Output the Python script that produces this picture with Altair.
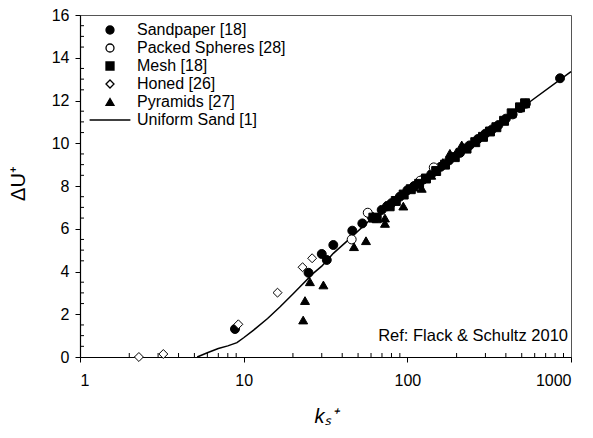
import altair as alt
import pandas as pd

# ---- data ----
series_names = ["Sandpaper [18]", "Packed Spheres [28]", "Mesh [18]",
                "Honed [26]", "Pyramids [27]", "Uniform Sand [1]"]

sand_k = [8.85, 24.9, 30.0, 32.2, 35.3, 46.1, 53.1, 60.5, 69.7, 75, 80, 90, 100, 110,
          125, 140, 160, 180, 210, 240, 270, 300, 330, 360, 400, 440, 490, 530, 857]
sand_du = [1.31, 3.94, 4.82, 4.54, 5.24, 5.91, 6.25, 6.56, 6.88, 7.05, 7.2, 7.5, 7.8, 8.0,
           8.3, 8.55, 8.9, 9.2, 9.55, 9.9, 10.2, 10.45, 10.65, 10.85, 11.15, 11.35, 11.65, 11.85, 13.04]

spheres_k = [45.7, 57.3, 120, 145]
spheres_du = [5.5, 6.75, 8.25, 8.87]

mesh_k = [62, 65, 78, 85, 95, 105, 118, 130, 150, 170, 195, 230, 260, 290, 320, 350,
          390, 434, 488, 524]
mesh_du = [6.52, 6.49, 7.05, 7.3, 7.6, 7.85, 8.1, 8.35, 8.7, 9.0, 9.35, 9.75, 10.05, 10.3,
           10.55, 10.75, 11.05, 11.4, 11.68, 11.87]

honed_k = [2.29, 3.23, 9.28, 16.1, 22.9, 26.2]
honed_du = [0.0, 0.14, 1.53, 3.01, 4.2, 4.62]

pyr_k = [23.1, 23.7, 25.4, 30.7, 47.2, 55.9, 73, 73, 94.5, 110, 122.4, 140, 165, 182, 200, 215]
pyr_du = [1.73, 2.64, 3.52, 3.37, 5.16, 5.44, 6.25, 6.5, 7.06, 7.95, 7.89, 8.5, 9.1, 9.53, 9.6, 9.92]

line_k = [5.2, 6, 7, 8, 9.1, 10, 11.5, 14, 16.7, 20, 22.1, 26.6, 30, 35.3, 44.7, 59.1,
          74.8, 100, 200, 500, 1000]
line_du = [0.0, 0.2, 0.4, 0.52, 0.67, 0.9, 1.26, 1.8, 2.35, 2.95, 3.29, 3.91, 4.25, 4.85,
           5.55, 6.41, 7.03, 7.74, 9.43, 11.66, 13.35]

x_major = [1, 10, 100, 1000]
x_minor = [2, 3, 4, 5, 6, 7, 8, 9, 20, 30, 40, 50, 60, 70, 80, 90,
           200, 300, 400, 500, 600, 700, 800, 900]
y_major = [0, 2, 4, 6, 8, 10, 12, 14, 16]
y_minor = [0.5, 1, 1.5, 2.5, 3, 3.5, 4.5, 5, 5.5, 6.5, 7, 7.5, 8.5, 9, 9.5,
           10.5, 11, 11.5, 12.5, 13, 13.5, 14.5, 15, 15.5]

shape_range = ["circle", "circle", "square", "diamond", "triangle-up", "M-5.1,0L5.1,0"]
fill_range = ["black", "white", "black", "white", "black", "transparent"]
stroke_range = ["black"] * 6

# ---- tables ----
rows = []
for name, ks, dus in [(series_names[0], sand_k, sand_du),
                      (series_names[1], spheres_k, spheres_du),
                      (series_names[2], mesh_k, mesh_du),
                      (series_names[3], honed_k, honed_du),
                      (series_names[4], pyr_k, pyr_du)]:
    for k, d in zip(ks, dus):
        rows.append({"k": k, "du": d, "series": name})
pts = pd.DataFrame(rows)
line_df = pd.DataFrame({"k": line_k, "du": line_du})
xminor_df = pd.DataFrame({"k": x_minor})
yminor_df = pd.DataFrame({"du": y_minor})

FONT = "Liberation Sans"
W, H = 491, 342

xscale = alt.Scale(type="log", domain=[1, 1000])
yscale = alt.Scale(domain=[0, 16])

legend = alt.Legend(title=None, orient="none", legendX=22, legendY=7, padding=0,
                    labelFont=FONT, labelFontSize=16, labelColor="black",
                    symbolStrokeColor="black", symbolStrokeWidth=1.3, symbolSize=64,
                    labelOffset=19, rowPadding=2)

points = alt.Chart(pts).mark_point(filled=False, stroke="black", strokeWidth=1, opacity=1,
                                   size=80).encode(
    x=alt.X("k:Q", scale=xscale,
            axis=alt.Axis(values=x_major, format="d", title="kₛ⁺",
                          tickSize=5, labelPadding=10, labelFontSize=16, titleFontStyle="italic",
                          titleFontSize=20, titleFontWeight="normal", titlePadding=18)),
    y=alt.Y("du:Q", scale=yscale,
            axis=alt.Axis(values=y_major, title="ΔU⁺", tickSize=5, labelFontSize=16,
                          labelPadding=6, titleFontSize=20, titleFontWeight="normal",
                          titleX=-52, titleY=H / 2 - 3)),
    shape=alt.Shape("series:N", scale=alt.Scale(domain=series_names, range=shape_range),
                    legend=legend),
    fill=alt.Fill("series:N", scale=alt.Scale(domain=series_names, range=fill_range),
                  legend=legend),
    stroke=alt.Stroke("series:N", scale=alt.Scale(domain=series_names, range=stroke_range),
                      legend=legend),
)

line = alt.Chart(line_df).mark_line(color="black", strokeWidth=1.5).encode(
    x=alt.X("k:Q", scale=xscale),
    y=alt.Y("du:Q", scale=yscale),
)

xminor = alt.Chart(xminor_df).mark_rule(color="black", strokeWidth=1).encode(
    x=alt.X("k:Q", scale=xscale), y=alt.value(H), y2=alt.value(H - 4))
yminor = alt.Chart(yminor_df).mark_rule(color="black", strokeWidth=1).encode(
    y=alt.Y("du:Q", scale=yscale), x=alt.value(0), x2=alt.value(4))

note = alt.Chart(pd.DataFrame({"t": ["Ref: Flack & Schultz 2010"]})).mark_text(
    align="right", baseline="middle", font=FONT, fontSize=16.5, color="black"
).encode(text="t:N", x=alt.value(W - 3), y=alt.value(H - 21))

chart = alt.layer(line, xminor, yminor, points, note).properties(
    width=W, height=H, autosize=alt.AutoSizeParams(type="none"),
    padding={"left": 72, "top": 7, "right": 14, "bottom": 73},
    background="white"
).configure_view(stroke="#555", strokeWidth=1).configure_axis(
    domainColor="black", tickColor="black", labelColor="black", titleColor="black",
    labelFont=FONT, titleFont=FONT, grid=False, domainWidth=1.2
)

chart.save("out.html", embed_options={"renderer": "svg", "actions": False})
